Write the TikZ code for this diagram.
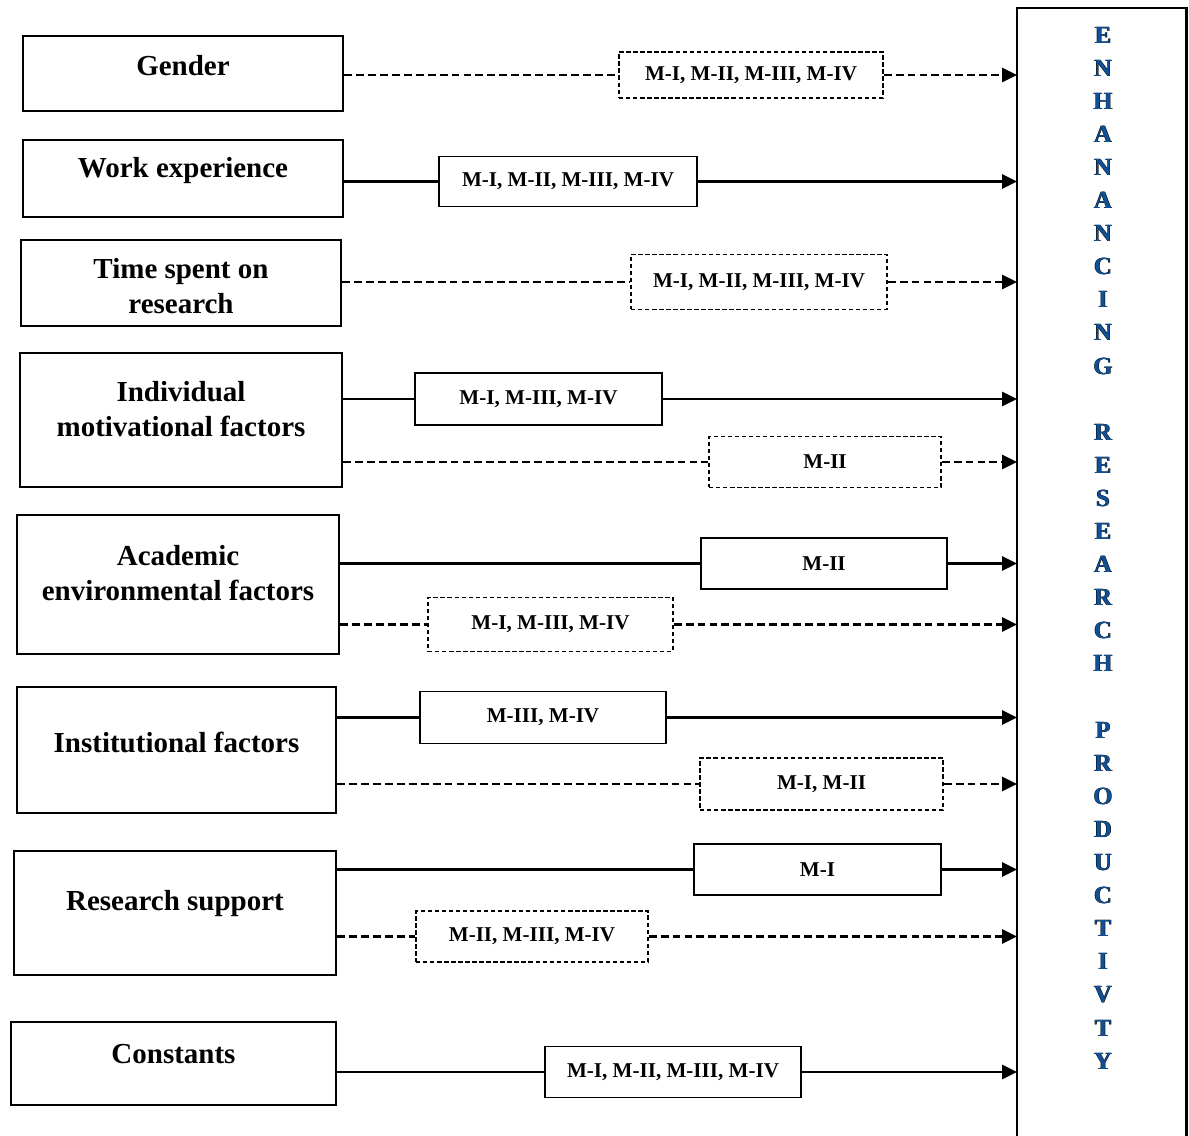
\documentclass[tikz,border=0pt]{standalone}
\usepackage{fontspec}
\setmainfont{Liberation Serif}
\usetikzlibrary{arrows.meta}
\definecolor{letterblue}{RGB}{15,80,150}
\newcommand{\embossed}[1]{\makebox[0pt]{\hspace{-0.5pt}\textcolor{black}{#1}}\makebox[0pt]{\hspace{0.5pt}\textcolor{black}{#1}}\makebox[0pt]{\textcolor{letterblue}{#1}}}

\tikzset{
	factor/.style={draw, line width=1.2pt, rectangle},
	ftext/.style={font=\fontsize{16.5}{20}\selectfont\bfseries, align=center},
	model/.style={draw, fill=white, line width=0.8pt, font=\fontsize{12}{14}\selectfont\bfseries},
	dmodel/.style={model, dash pattern=on 2.5pt off 1.5pt},
	link/.style={line width=1.3pt},
	dlink/.style={link, dash pattern=on 4.5pt off 2.3pt},
	arr/.style={-{Triangle[length=8.5pt,width=8pt]}},
	letter/.style={font=\fontsize{14}{16}\selectfont\bfseries, inner sep=0pt}
}

\begin{document}
\begin{tikzpicture}[x=0.02cm, y=-0.02cm]
	\useasboundingbox (0,0) rectangle (1189,1135);
	\node[minimum width=3.38cm, minimum height=22.9cm, anchor=north west, inner sep=0pt] (dv) at (1017,8) {};
	\draw[line width=1.4pt] (dv.south west) |- (dv.north east) -- (dv.south east);
	\foreach \ch [count=\i from 0] in {E,N,H,A,N,A,N,C,I,N,G}
		\node[letter] (t\i) at (1103,35+33.1*\i) {\embossed{\ch}};
	\foreach \ch [count=\i from 12] in {R,E,S,E,A,R,C,H}
		\node[letter] (t\i) at (1103,35+33.1*\i) {\embossed{\ch}};
	\foreach \ch [count=\i from 21] in {P,R,O,D,U,C,T,I,V,T,Y}
		\node[letter] (t\i) at (1103,35+33.1*\i) {\embossed{\ch}};

	\node[factor, minimum width=6.4cm, minimum height=1.5cm, label={[ftext,yshift=0.16cm]center:Gender}] (gen) at (183,73.5) {};
	\node[factor, minimum width=6.4cm, minimum height=1.54cm, label={[ftext,yshift=0.16cm]center:Work experience}] (work) at (183,178.5) {};
	\node[factor, minimum width=6.4cm, minimum height=1.72cm, label={[ftext,yshift=-0.06cm]center:Time spent on\\research}] (time) at (181,283) {};
	\node[factor, minimum width=6.44cm, minimum height=2.68cm, label={[ftext,yshift=0.22cm]center:Individual\\motivational factors}] (indiv) at (181,420) {};
	\node[factor, minimum width=6.44cm, minimum height=2.78cm, label={[ftext,yshift=0.22cm]center:Academic\\environmental factors}] (acad) at (178,584.5) {};
	\node[factor, minimum width=6.38cm, minimum height=2.52cm, label={[ftext,yshift=0.16cm]center:Institutional factors}] (inst) at (176.5,750) {};
	\node[factor, minimum width=6.44cm, minimum height=2.48cm, label={[ftext,yshift=0.18cm]center:Research support}] (supp) at (175,913) {};
	\node[factor, minimum width=6.5cm, minimum height=1.66cm, label={[ftext,yshift=0.18cm]center:Constants}] (const) at (173.5,1063.5) {};

	\node[dmodel, minimum width=5.28cm, minimum height=0.92cm] (gen1) at (751,75) {M-I, M-II, M-III, M-IV};
	\node[model, minimum width=5.16cm, minimum height=1cm] (work1) at (568,181.5) {M-I, M-II, M-III, M-IV};
	\node[dmodel, minimum width=5.12cm, minimum height=1.1cm] (time1) at (759,282) {M-I, M-II, M-III, M-IV};
	\node[model, minimum width=4.94cm, minimum height=1.04cm] (indiv1) at (538.5,399) {M-I, M-III, M-IV};
	\node[dmodel, minimum width=4.64cm, minimum height=1.02cm] (indiv2) at (825,462) {M-II};
	\node[model, minimum width=4.92cm, minimum height=1.02cm] (acad1) at (824,563.5) {M-II};
	\node[dmodel, minimum width=4.9cm, minimum height=1.08cm] (acad2) at (550.5,624.5) {M-I, M-III, M-IV};
	\node[model, minimum width=4.92cm, minimum height=1.04cm] (inst1) at (543,717.5) {M-III, M-IV};
	\node[dmodel, minimum width=4.86cm, minimum height=1.04cm] (inst2) at (821.5,784) {M-I, M-II};
	\node[model, minimum width=4.94cm, minimum height=1.02cm] (supp1) at (817.5,869.5) {M-I};
	\node[dmodel, minimum width=4.64cm, minimum height=1.02cm] (supp2) at (532,936.5) {M-II, M-III, M-IV};
	\node[model, minimum width=5.12cm, minimum height=1.02cm] (const1) at (673,1072) {M-I, M-II, M-III, M-IV};

	\draw[dlink] (gen.east |- gen1) -- (gen1.west);
	\draw[dlink, arr] (gen1.east) -- (gen1 -| dv.west);
	\draw[link] (work.east |- work1) -- (work1.west);
	\draw[link, arr] (work1.east) -- (work1 -| dv.west);
	\draw[dlink] (time.east |- time1) -- (time1.west);
	\draw[dlink, arr] (time1.east) -- (time1 -| dv.west);
	\draw[link] (indiv.east |- indiv1) -- (indiv1.west);
	\draw[link, arr] (indiv1.east) -- (indiv1 -| dv.west);
	\draw[dlink] (indiv.east |- indiv2) -- (indiv2.west);
	\draw[dlink, arr] (indiv2.east) -- (indiv2 -| dv.west);
	\draw[link] (acad.east |- acad1) -- (acad1.west);
	\draw[link, arr] (acad1.east) -- (acad1 -| dv.west);
	\draw[dlink] (acad.east |- acad2) -- (acad2.west);
	\draw[dlink, arr] (acad2.east) -- (acad2 -| dv.west);
	\draw[link] (inst.east |- inst1) -- (inst1.west);
	\draw[link, arr] (inst1.east) -- (inst1 -| dv.west);
	\draw[dlink] (inst.east |- inst2) -- (inst2.west);
	\draw[dlink, arr] (inst2.east) -- (inst2 -| dv.west);
	\draw[link] (supp.east |- supp1) -- (supp1.west);
	\draw[link, arr] (supp1.east) -- (supp1 -| dv.west);
	\draw[dlink] (supp.east |- supp2) -- (supp2.west);
	\draw[dlink, arr] (supp2.east) -- (supp2 -| dv.west);
	\draw[link] (const.east |- const1) -- (const1.west);
	\draw[link, arr] (const1.east) -- (const1 -| dv.west);
\end{tikzpicture}
\end{document}
